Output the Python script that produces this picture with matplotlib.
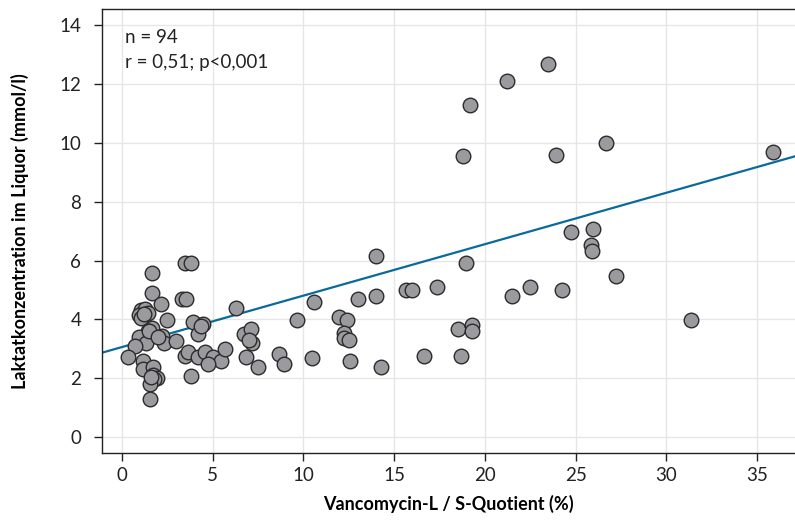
import numpy as np
import matplotlib
matplotlib.use("Agg")
from matplotlib import pyplot as plt

plt.rcParams['font.family'] = ['Lato', 'DejaVu Sans']

# Vancomycin L/S quotient (%) and lactate in CSF (mmol/l)
quotient = [1.67, 1.63, 2.13, 1.05, 1.25, 1.45, 0.95, 1.05, 2.46, 1.63,
            1.45, 0.95, 2.20, 2.30, 1.30, 0.72, 2.98, 0.35, 1.14, 1.17,
            1.73, 1.69, 1.91, 1.76, 1.54, 1.54, 3.47, 3.79, 3.29, 3.53,
            6.28, 3.93, 4.48, 4.20, 3.47, 3.66, 4.20, 4.57, 5.00, 5.45,
            4.76, 5.67, 3.78, 6.72, 7.09, 7.14, 6.83, 7.50, 8.65, 8.93,
            9.62, 10.60, 10.47, 11.97, 12.40, 12.23, 12.23, 12.50, 12.55, 13.00,
            13.98, 13.98, 14.25, 15.63, 16.00, 17.34, 16.64, 18.50, 19.30, 19.30,
            18.70, 18.94, 18.77, 19.17, 21.21, 23.47, 23.90, 26.65, 21.50, 22.50,
            24.26, 24.72, 25.97, 25.84, 25.90, 27.22, 31.33, 35.87,
            1.60, 1.20, 1.50, 4.35, 7.00, 2.00]
lactate = [4.89, 5.59, 4.51, 4.32, 4.35, 4.22, 4.15, 4.05, 3.98, 3.70,
           3.62, 3.41, 3.45, 3.20, 3.19, 3.11, 3.28, 2.71, 2.60, 2.30,
           2.39, 2.11, 2.02, 1.96, 1.82, 1.28, 5.91, 5.91, 4.69, 4.69,
           4.40, 3.92, 3.84, 3.50, 2.76, 2.90, 2.73, 2.90, 2.71, 2.60,
           2.50, 2.98, 2.09, 3.50, 3.68, 3.21, 2.71, 2.39, 2.81, 2.50,
           3.98, 4.60, 2.70, 4.09, 3.98, 3.53, 3.38, 3.30, 2.58, 4.69,
           4.81, 6.17, 2.39, 5.00, 5.00, 5.09, 2.77, 3.68, 3.81, 3.60,
           2.77, 5.91, 9.57, 11.28, 12.12, 12.69, 9.59, 9.99, 4.81, 5.09,
           5.01, 6.98, 7.07, 6.53, 6.34, 5.49, 3.98, 9.69,
           2.05, 4.20, 3.60, 3.78, 3.30, 3.40]

# regression line as drawn in the original
fit_intercept = 3.06
fit_slope = 0.175

x_ticks = [0, 5, 10, 15, 20, 25, 30, 35]
y_ticks = [0, 2, 4, 6, 8, 10, 12, 14]

fig = plt.figure(figsize=(7.95, 5.22), dpi=100)
ax = fig.add_axes([102/795, 69/522, 1 - 102/795, (453 - 9)/522])

xlim = (-1.1, 37.08)
ylim = (-0.544, 14.56)
ax.set_xlim(xlim)
ax.set_ylim(ylim)

ax.grid(True, color='#e6e6e6', linewidth=1.0)
ax.set_axisbelow(True)

xs = np.array(xlim)
ax.plot(xs, fit_intercept + fit_slope*xs, color='#0a6a9c', linewidth=1.6, zorder=2)

ax.scatter(quotient, lactate, s=110, facecolor='#9b9b9f', edgecolor='#2b2b2b',
           linewidth=1.0, zorder=3)

ax.set_xticks(x_ticks)
ax.set_yticks(y_ticks)
ax.tick_params(direction='out', length=6, width=1, labelsize=13.5, colors='#222222')
ax.tick_params(axis='y', pad=9)
ax.tick_params(axis='x', pad=4)
for s in ['left', 'bottom', 'top']:
    ax.spines[s].set_color('#222222')
    ax.spines[s].set_linewidth(1.0)
ax.spines['right'].set_visible(False)

ax.set_xlabel('Vancomycin-L / S-Quotient (%)', fontsize=13, fontweight='bold', labelpad=8)
ax.set_ylabel('Laktatkonzentration im Liquor (mmol/l)', fontsize=13, fontweight='bold', labelpad=22)

ax.text(0.033, 0.955, 'n = 94\nr = 0,51; p<0,001', transform=ax.transAxes,
        fontsize=13.5, va='top', ha='left', color='#222222', linespacing=1.6)

fig.savefig('out.png', dpi=100)
